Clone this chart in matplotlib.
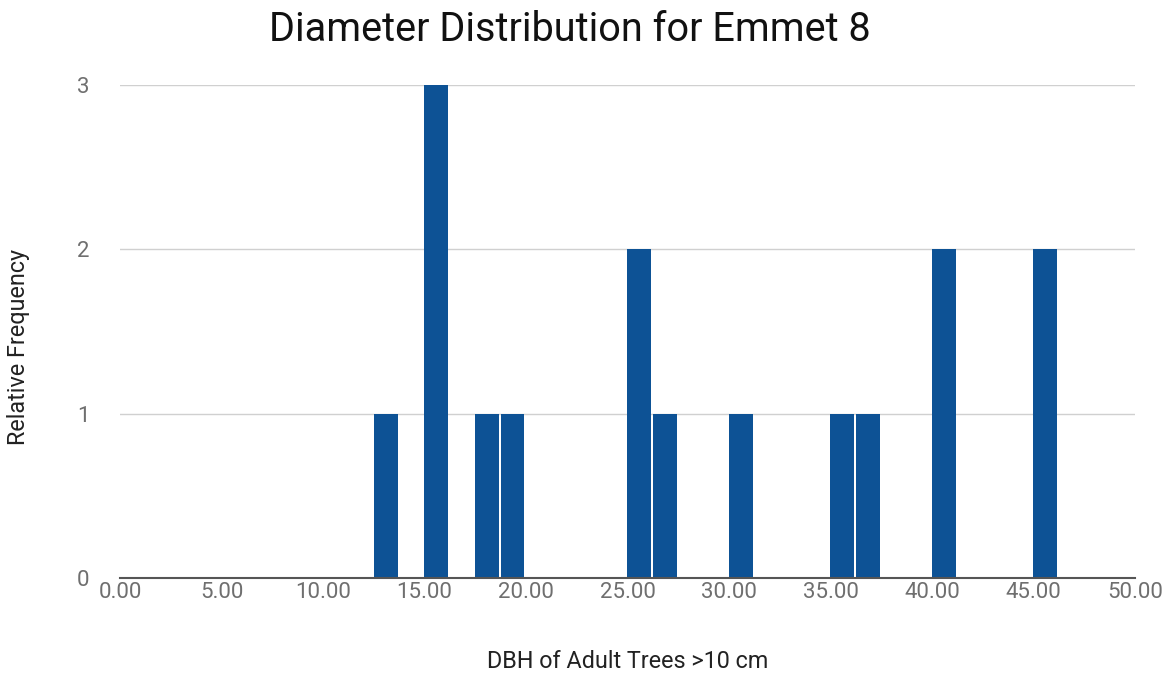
import matplotlib.pyplot as plt
from matplotlib.ticker import FixedLocator

# histogram bins (left edge, DBH in cm) and counts
bin_left = [12.5, 15.0, 17.5, 18.75, 25.0, 26.25, 30.0, 35.0, 36.25, 40.0, 45.0]
counts = [1, 3, 1, 1, 2, 1, 1, 1, 1, 2, 2]
bin_width = 1.25
x_ticks = [0, 5, 10, 15, 20, 25, 30, 35, 40, 45, 50]
y_ticks = [0, 1, 2, 3]

plt.rcParams['font.family'] = ['Roboto', 'DejaVu Sans']

fig = plt.figure(figsize=(11.72, 6.77), dpi=100)
ax = fig.add_axes([0.1024, 0.1462, 0.8660, 0.7282])

ax.bar(bin_left, counts, width=bin_width * 0.94, align='edge',
       color='#0d5295', edgecolor='none', zorder=3)

ax.set_xlim(0, 50)
ax.set_ylim(0, 3)
ax.xaxis.set_major_locator(FixedLocator(x_ticks))
ax.yaxis.set_major_locator(FixedLocator(y_ticks))
ax.set_xticklabels([f"{t:.2f}" for t in x_ticks])
ax.set_yticklabels([str(t) for t in y_ticks])
ax.tick_params(axis='both', length=0, labelsize=16, colors='#6f6f6f')
ax.tick_params(axis='x', pad=3)
ax.tick_params(axis='y', pad=22)

ax.grid(axis='y', color='#d0d0d0', linewidth=1, zorder=0)
for s in ['top', 'right', 'left']:
    ax.spines[s].set_visible(False)
ax.spines['bottom'].set_color('#555555')
ax.spines['bottom'].set_linewidth(1.5)
ax.spines['bottom'].set_zorder(4)

ax.set_xlabel('DBH of Adult Trees >10 cm', fontsize=16.8, color='#222222', va='center')
ax.xaxis.set_label_coords(0.5, -0.170)
ax.set_ylabel('Relative Frequency', fontsize=16.8, color='#222222', va='center')
ax.yaxis.set_label_coords(-0.1005, 0.469)

fig.text(0.486, 0.956, 'Diameter Distribution for Emmet 8', fontsize=28.5,
         color='#111111', ha='center', va='center')

fig.savefig('out.png', dpi=100, facecolor='white')
